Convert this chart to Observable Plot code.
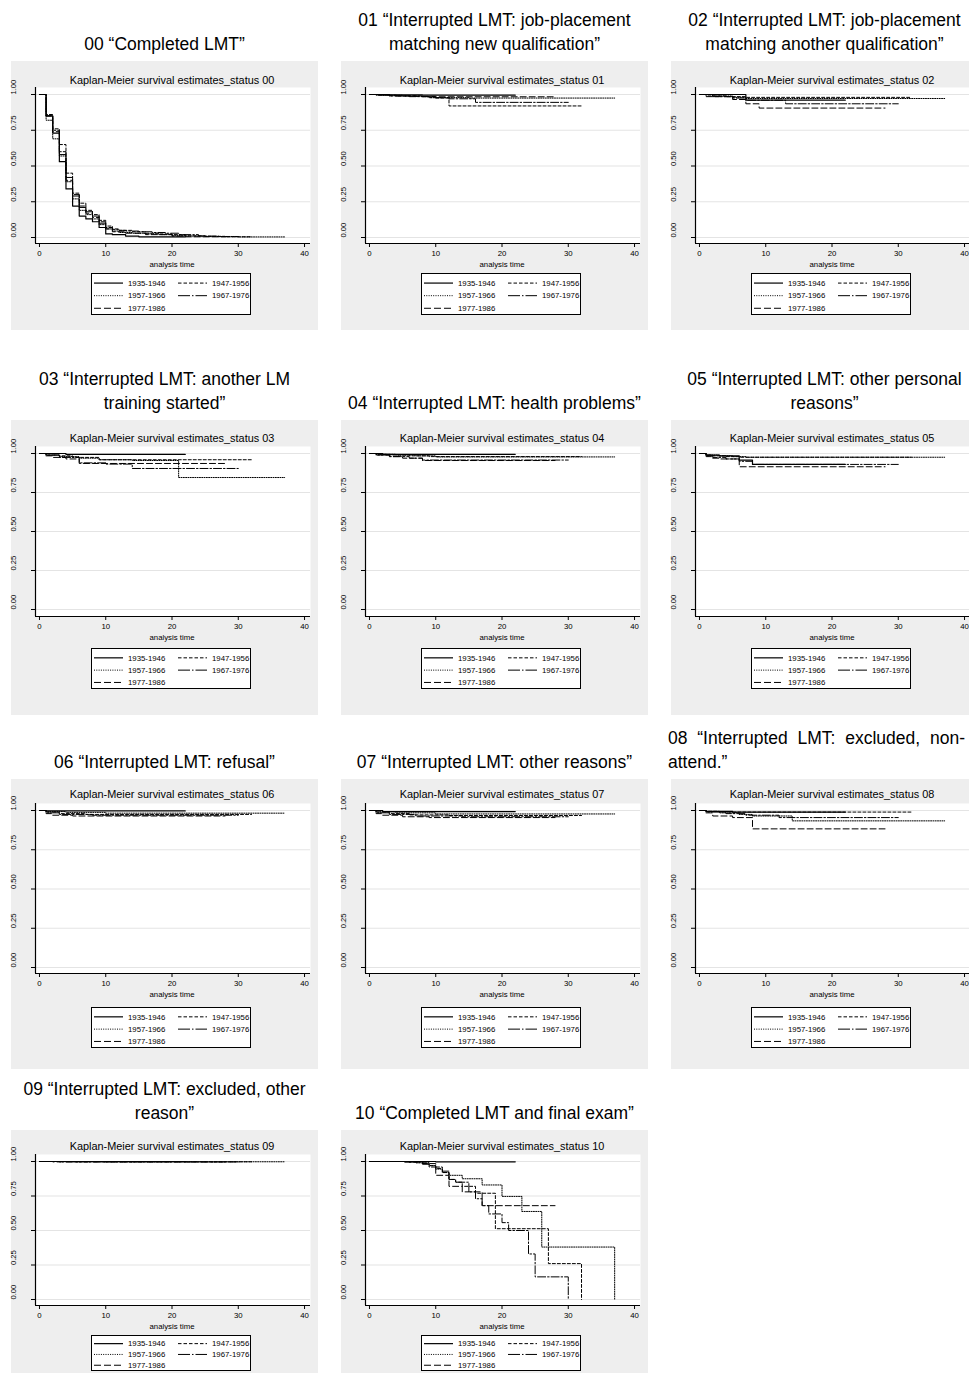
<!DOCTYPE html>
<html><head><meta charset="utf-8">
<script src="https://cdn.jsdelivr.net/npm/d3@7"></script>
<script src="https://cdn.jsdelivr.net/npm/@observablehq/plot@0.6"></script>
<style>
body{margin:0;background:#fff;font-family:"Liberation Sans",Arial,sans-serif;color:#000;}
#page{position:relative;width:969px;height:1381px;overflow:hidden;background:#fff;}
.cell{position:absolute;width:307px;}
.box{position:absolute;left:0;top:0;width:307px;background:#eeeeee;}
.otitle{position:absolute;left:0;width:307px;bottom:calc(100% + 5px);font-size:17.5px;line-height:24px;text-align:center;}
.otitle.just{text-align:justify;text-align-last:left;left:-3px;width:297px;}
.ititle{position:absolute;left:0;width:322px;text-align:center;font-size:10.9px;line-height:12px;white-space:nowrap;}
.xlab{position:absolute;left:0;width:322px;text-align:center;font-size:7.8px;line-height:9px;}
.plotwrap{position:absolute;left:-12px;top:0;}
.legend{position:absolute;left:80px;width:160px;background:#fff;border:1px solid #000;box-sizing:border-box;}
.legend svg{position:absolute;left:0;top:0;}
</style>
</head><body><div id="page"></div>
<script>
// ---------- data ----------
const cohorts = ["1935-1946", "1947-1956", "1957-1966", "1967-1976", "1977-1986"];
const statusCodes = ["00","01","02","03","04","05","06","07","08","09","10"];
const statusLabels = [
  "00 \u201cCompleted LMT\u201d",
  "01 \u201cInterrupted LMT: job-placement matching new qualification\u201d",
  "02 \u201cInterrupted LMT: job-placement matching another qualification\u201d",
  "03 \u201cInterrupted LMT: another LM training started\u201d",
  "04 \u201cInterrupted LMT: health problems\u201d",
  "05 \u201cInterrupted LMT: other personal reasons\u201d",
  "06 \u201cInterrupted LMT: refusal\u201d",
  "07 \u201cInterrupted LMT: other reasons\u201d",
  "08 \u201cInterrupted LMT: excluded, non-attend.\u201d",
  "09 \u201cInterrupted LMT: excluded, other reason\u201d",
  "10 \u201cCompleted LMT and final exam\u201d"
];
const xTicks = [0, 10, 20, 30, 40];
const yTicks = [0, 0.25, 0.5, 0.75, 1];
const xAxisTitle = "analysis time";
const innerTitlePrefix = "Kaplan-Meier survival estimates_status ";

// Kaplan-Meier step points [time, survival], one list per cohort (order as cohorts)
const km00 = [
  [[0,1],[1,0.85],[2,0.73],[3,0.53],[4,0.34],[5,0.22],[6,0.15],[7,0.13],[8,0.11],[9,0.07],[10,0.025],[11,0.02],[13,0.01],[15,0.005],[22,0.005]],
  [[0,1],[1,0.86],[2,0.76],[3,0.65],[4,0.45],[5,0.31],[6,0.24],[7,0.19],[8,0.16],[9,0.12],[10,0.08],[11,0.06],[12,0.05],[14,0.04],[16,0.03],[18,0.025],[20,0.02],[22,0.012],[25,0.008],[28,0.005],[32,0.005]],
  [[0,1],[1,0.82],[2,0.69],[3,0.57],[4,0.39],[5,0.27],[6,0.19],[7,0.16],[8,0.13],[9,0.09],[10,0.06],[11,0.045],[12,0.035],[14,0.03],[16,0.025],[18,0.02],[20,0.015],[22,0.01],[25,0.007],[30,0.004],[37,0.004]],
  [[0,1],[1,0.85],[2,0.75],[3,0.60],[4,0.42],[5,0.30],[6,0.22],[7,0.18],[8,0.15],[9,0.11],[10,0.07],[11,0.055],[12,0.05],[13,0.045],[15,0.04],[17,0.035],[19,0.03],[21,0.02],[24,0.01],[27,0.006],[30,0.006]],
  [[0,1],[1,0.85],[2,0.74],[3,0.58],[4,0.40],[5,0.29],[6,0.21],[7,0.17],[8,0.14],[9,0.10],[10,0.06],[11,0.04],[13,0.03],[16,0.02],[20,0.01],[22,0.005],[28,0.005]]
];
const km01 = [
  [[0,1],[3,0.997],[8,0.995],[22,0.995]],
  [[0,1],[1,0.995],[4,0.99],[8,0.985],[10,0.975],[12,0.92],[32,0.92]],
  [[0,1],[2,0.995],[5,0.99],[8,0.985],[9,0.978],[15,0.975],[37,0.975]],
  [[0,1],[3,0.99],[6,0.985],[9,0.978],[12,0.97],[16,0.945],[30,0.945]],
  [[0,1],[1,0.995],[3,0.99],[7,0.987],[10,0.984],[28,0.984]]
];
const km02 = [
  [[0,1],[7,0.96],[22,0.96]],
  [[0,1],[1,0.99],[4,0.985],[7,0.98],[32,0.98]],
  [[0,1],[2,0.99],[5,0.98],[7,0.972],[37,0.972]],
  [[0,1],[2,0.985],[5,0.975],[7,0.96],[13,0.935],[30,0.935]],
  [[0,1],[1,0.985],[5,0.965],[7,0.935],[9,0.905],[28,0.905]]
];
const km03 = [
  [[0,1],[4,0.994],[22,0.994]],
  [[0,1],[1,0.99],[3,0.985],[5,0.975],[9,0.96],[32,0.96]],
  [[0,1],[1,0.99],[3,0.98],[6,0.97],[9,0.96],[14,0.955],[21,0.846],[37,0.846]],
  [[0,1],[1,0.99],[3,0.975],[6,0.94],[10,0.932],[14,0.904],[30,0.904]],
  [[0,1],[1,0.985],[2,0.975],[4,0.965],[6,0.936],[28,0.936]]
];
const km04 = [
  [[0,1],[2,0.995],[22,0.995]],
  [[0,1],[1,0.995],[3,0.99],[6,0.985],[9,0.98],[32,0.98]],
  [[0,1],[1,0.995],[4,0.99],[7,0.985],[10,0.978],[37,0.978]],
  [[0,1],[1,0.99],[3,0.98],[6,0.97],[8,0.958],[30,0.958]],
  [[0,1],[1,0.99],[3,0.98],[5,0.97],[8,0.955],[28,0.955]]
];
const km05 = [
  [[0,1],[1,0.99],[3,0.985],[6,0.957],[8,0.93],[22,0.93]],
  [[0,1],[1,0.99],[2,0.985],[4,0.98],[6,0.976],[32,0.976]],
  [[0,1],[1,0.99],[3,0.985],[5,0.98],[7,0.976],[37,0.976]],
  [[0,1],[1,0.985],[2,0.975],[4,0.965],[6,0.95],[8,0.93],[30,0.93]],
  [[0,1],[1,0.98],[2,0.97],[3,0.965],[6,0.915],[28,0.915]]
];
const km06 = [
  [[0,1],[1,0.997],[22,0.997]],
  [[0,1],[1,0.99],[3,0.98],[7,0.975],[32,0.975]],
  [[0,1],[1,0.993],[4,0.988],[10,0.983],[37,0.983]],
  [[0,1],[1,0.985],[3,0.975],[8,0.97],[30,0.97]],
  [[0,1],[1,0.98],[2,0.97],[5,0.965],[28,0.965]]
];
const km07 = [
  [[0,1],[2,0.993],[22,0.993]],
  [[0,1],[1,0.99],[3,0.98],[6,0.972],[12,0.968],[32,0.968]],
  [[0,1],[1,0.992],[4,0.985],[10,0.978],[37,0.978]],
  [[0,1],[1,0.985],[3,0.975],[7,0.965],[14,0.96],[30,0.96]],
  [[0,1],[1,0.98],[2,0.97],[5,0.96],[9,0.955],[28,0.955]]
];
const km08 = [
  [[0,1],[1,0.995],[5,0.99],[22,0.99]],
  [[0,1],[1,0.995],[3,0.99],[32,0.99]],
  [[0,1],[1,0.993],[3,0.985],[6,0.975],[8,0.965],[14,0.934],[37,0.934]],
  [[0,1],[1,0.99],[4,0.98],[7,0.97],[12,0.955],[30,0.955]],
  [[0,1],[1,0.985],[2,0.965],[5,0.955],[8,0.883],[28,0.883]]
];
const km09 = [
  [[0,1],[22,1]],
  [[0,1],[5,0.998],[32,0.998]],
  [[0,1],[10,0.998],[37,0.998]],
  [[0,1],[3,0.997],[30,0.997]],
  [[0,1],[2,0.997],[28,0.997]]
];
const km10 = [
  [[0,1],[10,0.998],[22,0.998]],
  [[0,1],[8,0.99],[9,0.97],[10,0.95],[11,0.92],[12,0.87],[13,0.85],[14,0.82],[16,0.77],[19,0.513],[27,0.26],[32,0]],
  [[0,1],[7,0.99],[9,0.97],[10,0.945],[11,0.92],[12,0.9],[14,0.875],[17,0.83],[20,0.747],[23,0.638],[26,0.38],[37,0]],
  [[0,1],[6,0.995],[8,0.98],[9,0.96],[11,0.93],[12,0.87],[13,0.85],[15,0.78],[16,0.73],[17,0.68],[18,0.62],[20,0.557],[21,0.5],[24,0.33],[25,0.164],[30,0]],
  [[0,1],[5,0.995],[8,0.985],[10,0.9],[12,0.82],[14,0.78],[17,0.68],[28,0.68]]
];
const kmData = [km00, km01, km02, km03, km04, km05, km06, km07, km08, km09, km10];

// ---------- styles / layout ----------
const dashes = [null, "3,2", "1,1.3", "8,2,1.5,2", "6,3"];
const widths = [1.2, 1, 1, 1, 1];
const legendDashes = [null, "3.5,2", "1,1.3", "12,2,1.5,2", "7,3"];
const colLeft = [11, 341, 671];
const rows = [
  {top: 61,   height: 269, title: 19, y1: 33, y0: 176, axis: 182, legend: 212, legendH: 42},
  {top: 420,  height: 295, title: 18, y1: 33, y0: 189, axis: 196, legend: 228, legendH: 41},
  {top: 779,  height: 290, title: 15, y1: 31, y0: 188, axis: 194, legend: 228, legendH: 41},
  {top: 1130, height: 243, title: 16, y1: 31, y0: 169, axis: 175, legend: 205, legendH: 36}
];
const xDomain = [-0.6, 40.9];
const FONT = "'Liberation Sans', Arial, sans-serif";

const page = document.getElementById("page");

statusCodes.forEach((code, i) => {
  const r = rows[Math.floor(i / 3)];
  const left = colLeft[i % 3];
  const cell = document.createElement("div");
  cell.className = "cell";
  cell.style.left = left + "px";
  cell.style.top = r.top + "px";
  cell.style.height = r.height + "px";
  page.appendChild(cell);

  const box = document.createElement("div");
  box.className = "box";
  box.style.height = r.height + "px";
  cell.appendChild(box);

  const ot = document.createElement("div");
  ot.className = "otitle" + (code === "08" ? " just" : "");
  ot.textContent = statusLabels[i];
  cell.appendChild(ot);

  const it = document.createElement("div");
  it.className = "ititle";
  it.style.top = (r.title - 6) + "px";
  it.textContent = innerTitlePrefix + code;
  cell.appendChild(it);

  const k = r.y0 - r.y1;
  const plotTop = r.y1 - 7;
  const yDomain = [-(r.axis - r.y0) / k, 1 + (r.y1 - plotTop) / k];

  const lineMarks = cohorts.map((c, j) =>
    Plot.line(kmData[i][j], {
      x: d => d[0], y: d => d[1], curve: "step-after",
      stroke: "#000", strokeWidth: widths[j],
      strokeDasharray: dashes[j] || undefined
    })
  );

  const chart = Plot.plot({
    width: 319,
    height: r.axis + 16,
    marginLeft: 36, marginRight: 8, marginTop: plotTop, marginBottom: 16,
    style: {background: "transparent", overflow: "visible", fontFamily: FONT, color: "#000"},
    x: {domain: xDomain},
    y: {domain: yDomain},
    marks: [
      Plot.frame({fill: "white", stroke: "none"}),
      Plot.ruleY(yTicks, {stroke: "#e4e4e4", strokeWidth: 1.2}),
      ...lineMarks,
      Plot.ruleX([xDomain[0]], {stroke: "#000", strokeWidth: 1.2}),
      Plot.ruleY([yDomain[0]], {stroke: "#000", strokeWidth: 1.2}),
      Plot.axisX({ticks: xTicks, tickSize: 4, tickPadding: 3, fontSize: 7.8, label: null}),
      Plot.axisY({ticks: yTicks, tickSize: 4, tickFormat: () => "", label: null}),
      Plot.text(yTicks, {frameAnchor: "left", y: d => d, text: d => d.toFixed(2), rotate: -90, dx: -22, fontSize: 7.6})
    ]
  });
  const wrap = document.createElement("div");
  wrap.className = "plotwrap";
  wrap.appendChild(chart);
  cell.appendChild(wrap);

  const xl = document.createElement("div");
  xl.className = "xlab";
  xl.style.top = (r.axis + 22 - 5) + "px";
  xl.textContent = xAxisTitle;
  cell.appendChild(xl);

  // legend
  const lg = document.createElement("div");
  lg.className = "legend";
  lg.style.top = r.legend + "px";
  lg.style.height = r.legendH + "px";
  const H = r.legendH;
  const ns = "http://www.w3.org/2000/svg";
  const svg = document.createElementNS(ns, "svg");
  svg.setAttribute("width", 158);
  svg.setAttribute("height", H - 2);
  svg.style.fontFamily = FONT;
  cohorts.forEach((c, j) => {
    const col = j % 2, row = Math.floor(j / 2);
    const yy = H * (0.24 + 0.30 * row) - 1;
    const x0 = col === 0 ? 2 : 86;
    const ln = document.createElementNS(ns, "line");
    ln.setAttribute("x1", x0); ln.setAttribute("x2", x0 + 29);
    ln.setAttribute("y1", yy); ln.setAttribute("y2", yy);
    ln.setAttribute("stroke", "#000");
    ln.setAttribute("stroke-width", widths[j]);
    if (legendDashes[j]) ln.setAttribute("stroke-dasharray", legendDashes[j]);
    svg.appendChild(ln);
    const tx = document.createElementNS(ns, "text");
    tx.setAttribute("x", x0 + 34);
    tx.setAttribute("y", yy);
    tx.setAttribute("dy", "0.35em");
    tx.setAttribute("font-size", "7.8");
    tx.textContent = c;
    svg.appendChild(tx);
  });
  lg.appendChild(svg);
  cell.appendChild(lg);
});
</script>
</body></html>
